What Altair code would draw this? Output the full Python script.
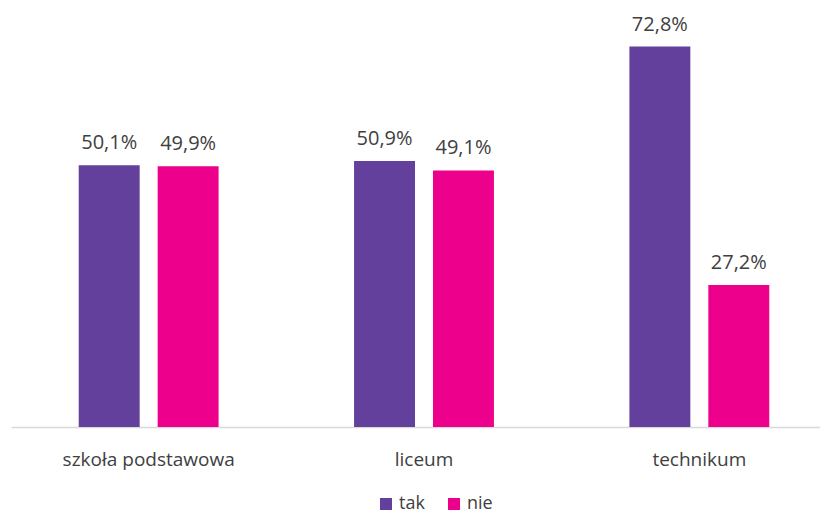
import altair as alt
import pandas as pd

categories = ["szkoła podstawowa", "liceum", "technikum"]
series = ["tak", "nie"]
tak_values = [50.1, 50.9, 72.8]
nie_values = [49.9, 49.1, 27.2]
labels_tak = ["50,1%", "50,9%", "72,8%"]
labels_nie = ["49,9%", "49,1%", "27,2%"]

rows = []
for i, c in enumerate(categories):
    rows.append({"kat": c, "seria": "tak", "v": tak_values[i], "lab": labels_tak[i]})
    rows.append({"kat": c, "seria": "nie", "v": nie_values[i], "lab": labels_nie[i]})
df = pd.DataFrame(rows)

FONT = "Open Sans"
x = alt.X("kat:N", sort=categories, title=None,
          scale=alt.Scale(range=[3, 829], paddingInner=0, paddingOuter=0),
          axis=alt.Axis(labelAngle=0, labelFontSize=19, labelFont=FONT, labelColor="#404040",
                        labelPadding=23, ticks=False, domainColor="#d9d9d9", domainWidth=1.5))
xo = alt.XOffset("seria:N", sort=series,
                 scale=alt.Scale(paddingInner=0.228, paddingOuter=0.858))
y = alt.Y("v:Q", scale=alt.Scale(domain=[0, 80]), axis=None)
color = alt.Color("seria:N", sort=series,
                  scale=alt.Scale(domain=series, range=["#62409C", "#EC008C"]),
                  legend=alt.Legend(title=None, orient="none", direction="horizontal",
                                    legendX=369, legendY=486, labelFont=FONT, labelFontSize=18,
                                    labelColor="#404040", symbolType="square", symbolSize=144,
                                    symbolStrokeWidth=0, columnPadding=20, labelOffset=4))

bars = alt.Chart(df).mark_bar().encode(x=x, xOffset=xo, y=y, color=color)
text = alt.Chart(df).mark_text(dy=-16, fontSize=20, font=FONT, color="#404040", baseline="alphabetic").encode(
    x=x, xOffset=xo, y=y, text="lab:N")

chart = (bars + text).properties(
    width=812, height=418,
    autosize=alt.AutoSizeParams(type="none"),
    padding={"left": 0, "top": 1, "right": 0, "bottom": 88},
).configure_view(stroke=None)

chart.save("out.html", embed_options={"renderer": "svg", "actions": False})
